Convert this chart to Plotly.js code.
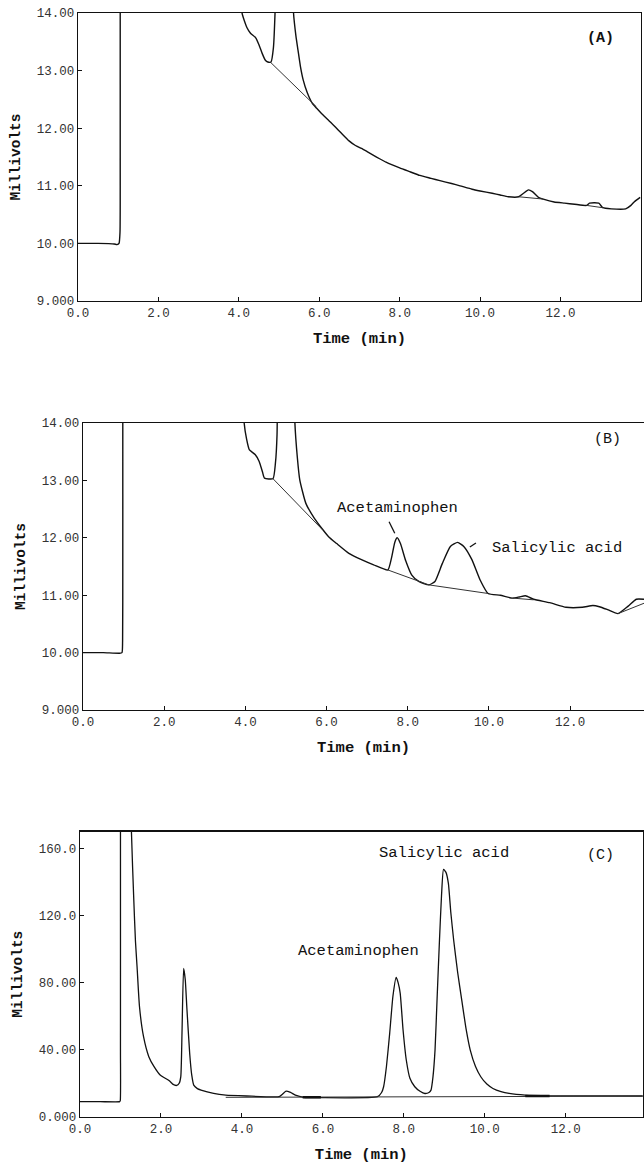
<!DOCTYPE html>
<html>
<head>
<meta charset="utf-8">
<script src="https://cdn.plot.ly/plotly-3.0.1.min.js"></script>
<style>html,body{margin:0;padding:0;background:#fff;}#chart{width:644px;height:1164px;}</style>
</head>
<body>
<div id="chart"></div>
<script>
// ---------- Panel A (blank / baseline run) ----------  (values above 14 mV are off-scale)
const aTime = [0, 0.5, 0.9, 0.97, 1.02, 1.045, 1.05, 1.05, 1.05, 4.04, 4.06, 4.08, 4.2, 4.29, 4.42, 4.5, 4.58, 4.66, 4.72, 4.8, 4.86, 4.9, 4.92, 4.93, 5.34, 5.35, 5.36, 5.42, 5.47, 5.53, 5.6, 5.7, 5.82, 5.93, 6.05, 6.23, 6.4, 6.54, 6.74, 6.9, 7.05, 7.2, 7.35, 7.5, 7.66, 8.0, 8.27, 8.5, 8.78, 9.0, 9.29, 9.5, 9.8, 10.0, 10.3, 10.5, 10.7, 10.96, 11.08, 11.2, 11.3, 11.45, 11.57, 11.84, 12.1, 12.35, 12.65, 12.72, 12.95, 13.05, 13.26, 13.62, 13.75, 13.83, 13.98];
const aMv   = [10.0, 10.0, 9.99, 9.98, 10.0, 10.2, 11.5, 14.0, 16.0, 16.0, 14.6, 14.0, 13.75, 13.65, 13.57, 13.45, 13.3, 13.18, 13.15, 13.15, 13.4, 14.0, 14.6, 16.0, 16.0, 14.6, 14.0, 13.6, 13.36, 13.08, 12.84, 12.62, 12.44, 12.35, 12.26, 12.14, 12.02, 11.92, 11.78, 11.7, 11.65, 11.59, 11.53, 11.47, 11.41, 11.31, 11.24, 11.18, 11.13, 11.09, 11.04, 11.0, 10.94, 10.91, 10.87, 10.84, 10.81, 10.81, 10.87, 10.93, 10.9, 10.8, 10.77, 10.72, 10.7, 10.68, 10.66, 10.7, 10.7, 10.62, 10.6, 10.6, 10.66, 10.72, 10.8];
const aBaseTime = [4.78, 5.93, null, 10.96, 11.57, null, 12.65, 13.05];
const aBaseMv   = [13.15, 12.37, null, 10.81, 10.77, null, 10.66, 10.62];

// ---------- Panel B (spiked serum) ----------
const bTime = [0, 0.5, 0.9, 0.96, 0.975, 0.98, 0.98, 0.98, 3.93, 3.95, 3.97, 4.03, 4.1, 4.24, 4.34, 4.42, 4.47, 4.68, 4.74, 4.78, 4.79, 4.8, 5.2, 5.21, 5.22, 5.28, 5.34, 5.49, 5.7, 5.9, 6.05, 6.25, 6.55, 6.86, 7.16, 7.51, 7.6, 7.68, 7.74, 7.82, 7.95, 8.1, 8.27, 8.52, 8.67, 8.85, 9.05, 9.23, 9.38, 9.58, 9.78, 9.98, 10.28, 10.58, 10.75, 10.9, 11.1, 11.5, 11.9, 12.3, 12.56, 12.72, 12.92, 13.18, 13.43, 13.63, 13.82];
const bMv   = [10.0, 10.0, 9.99, 10.0, 10.2, 11.5, 14.0, 16.0, 16.0, 14.6, 14.0, 13.72, 13.53, 13.45, 13.33, 13.15, 13.04, 13.03, 13.3, 13.8, 14.6, 16.0, 16.0, 14.6, 14.0, 13.4, 13.01, 12.6, 12.34, 12.15, 12.02, 11.9, 11.73, 11.62, 11.53, 11.44, 11.65, 11.92, 12.0, 11.9, 11.6, 11.35, 11.24, 11.18, 11.24, 11.55, 11.85, 11.92, 11.85, 11.62, 11.27, 11.03, 11.0, 10.95, 10.97, 10.99, 10.93, 10.87, 10.79, 10.79, 10.82, 10.8, 10.75, 10.68, 10.81, 10.93, 10.93];
const bBaseTime = [4.68, 5.9, null, 7.51, 8.52, 9.98, null, 10.58, 11.1, null, 13.18, 13.82];
const bBaseMv   = [13.03, 12.14, null, 11.44, 11.18, 11.03, null, 10.95, 10.92, null, 10.68, 10.86];

// ---------- Panel C (standards) ----------
const cTime = [0, 0.5, 0.98, 0.995, 1.0, 1.0, 1.0, 1.26, 1.265, 1.27, 1.33, 1.37, 1.41, 1.47, 1.57, 1.70, 1.83, 1.98, 2.18, 2.25, 2.29, 2.39, 2.45, 2.49, 2.52, 2.56, 2.6, 2.64, 2.71, 2.76, 2.81, 2.9, 2.99, 3.3, 3.6, 4.11, 4.92, 5.0, 5.09, 5.2, 5.32, 5.53, 5.93, 7.35, 7.45, 7.5, 7.57, 7.65, 7.73, 7.81, 7.86, 7.91, 7.98, 8.06, 8.15, 8.27, 8.4, 8.52, 8.62, 8.67, 8.72, 8.77, 8.82, 8.88, 8.93, 8.98, 9.04, 9.1, 9.16, 9.23, 9.33, 9.43, 9.54, 9.64, 9.77, 9.9, 10.05, 10.2, 10.4, 10.6, 11.0, 11.6, 13.95];
const cMv   = [9.0, 9.0, 9.0, 9.6, 40, 171, 230, 230, 200, 171, 129, 105, 89.6, 65.7, 47.8, 35.9, 29.9, 24.9, 21.9, 20.5, 19.5, 18.7, 20, 24, 50, 88.6, 82, 65, 37.8, 25, 18.9, 16.8, 15.9, 13.9, 12.9, 12.4, 12.0, 13.5, 15.3, 14.5, 12.9, 11.6, 11.4, 12.0, 14.5, 17.9, 30, 49.8, 72, 83.3, 80, 73.7, 52, 33.9, 23, 17.9, 15.2, 13.9, 14.5, 15.9, 24, 39.8, 70, 105.6, 132, 147.8, 146, 139.4, 122, 105.6, 86, 69.7, 52, 39.8, 30, 23.9, 19.5, 16.9, 15, 13.9, 12.9, 12.5, 12.4];
const cBaseTime = [3.6, 13.93];
const cBaseMv   = [11.6, 12.3];
const cMarkTime = [5.5, 5.95, null, 11.0, 11.6];
const cMarkMv   = [11.6, 11.6, null, 12.4, 12.4];

// ---------- Tick labels ----------
const timeTicks = [0, 2, 4, 6, 8, 10, 12];
const timeLabels = ["0.0", "2.0", "4.0", "6.0", "8.0", "10.0", "12.0"];
const mvTicksAB = [9, 10, 11, 12, 13, 14];
const mvLabelsAB = ["9.000", "10.00", "11.00", "12.00", "13.00", "14.00"];
const mvTicksC = [0, 40, 80, 120, 160];
const mvLabelsC = ["0.000", "40.00", "80.00", "120.0", "160.0"];

const MONO = "Liberation Mono, DejaVu Sans Mono, monospace";
const ink = "#111";

function line(x, y, xa, ya, w, c, smooth) {
  const ln = {color: c || ink, width: w};
  if (smooth) { ln.shape = "spline"; ln.smoothing = 0.5; }
  return {x: x, y: y, xaxis: xa, yaxis: ya, type: "scatter", mode: "lines",
          line: ln, hoverinfo: "skip", connectgaps: false};
}

const data = [
  line(aTime, aMv, "x", "y", 1.4, ink, true),
  line(aBaseTime, aBaseMv, "x", "y", 1.0, "#333"),
  line(bTime, bMv, "x2", "y2", 1.4, ink, true),
  line(bBaseTime, bBaseMv, "x2", "y2", 1.0, "#333"),
  line(cTime, cMv, "x3", "y3", 1.3, ink, true),
  line(cBaseTime, cBaseMv, "x3", "y3", 1.0, "#333"),
  line(cMarkTime, cMarkMv, "x3", "y3", 2.5)
];

function xAx(domain, range, anchor) {
  return {domain: domain, range: range, anchor: anchor, showline: true, mirror: true,
    linecolor: ink, linewidth: 1.2, ticks: "inside", ticklen: 4, tickcolor: ink,
    tickvals: timeTicks, ticktext: timeLabels, showgrid: false, zeroline: false,
    tickfont: {family: MONO, size: 12.5, color: "#333"},
    title: {text: "Time (min)", font: {family: MONO, size: 15.5, color: ink, weight: "bold"}, standoff: 12}};
}
function yAx(domain, range, anchor, tv, tt, mirror) {
  return {domain: domain, range: range, anchor: anchor, showline: true, mirror: mirror,
    linecolor: ink, linewidth: 1.2, ticks: "inside", ticklen: 4, tickcolor: ink,
    tickvals: tv, ticktext: tt, showgrid: false, zeroline: false,
    tickfont: {family: MONO, size: 12.5, color: "#333"},
    title: {text: "Millivolts", font: {family: MONO, size: 14.5, color: ink, weight: "bold"}, standoff: 12}};
}

const layout = {
  width: 644, height: 1164,
  margin: {l: 0, r: 0, t: 0, b: 0},
  paper_bgcolor: "#fff", plot_bgcolor: "#fff",
  showlegend: false,
  xaxis:  xAx([0.1211, 0.9953], [0, 14], "y"),
  yaxis:  yAx([0.7414, 0.9888], [9, 14], "x", mvTicksAB, mvLabelsAB, true),
  xaxis2: xAx([0.1289, 1.0], [0, 13.82], "y2"),
  yaxis2: yAx([0.3900, 0.6366], [9, 14], "x2", mvTicksAB, mvLabelsAB, false),
  xaxis3: xAx([0.1242, 0.998], [0, 13.9], "y3"),
  yaxis3: yAx([0.0406, 0.2855], [0, 170.3], "x3", mvTicksC, mvLabelsC, true),
  annotations: [
    {xref: "x", yref: "y", x: 13.0, y: 13.55, text: "(A)", showarrow: false,
     font: {family: MONO, size: 15, color: ink, weight: "bold"}},
    {xref: "x2", yref: "y2", x: 12.93, y: 13.72, text: "(B)", showarrow: false,
     font: {family: MONO, size: 15, color: ink}},
    {xref: "x2", yref: "y2", x: 7.75, y: 12.52, text: "Acetaminophen", showarrow: false,
     font: {family: MONO, size: 15.5, color: ink}},
    {xref: "x2", yref: "y2", x: 11.67, y: 11.82, text: "Salicylic acid", showarrow: false,
     font: {family: MONO, size: 15.5, color: ink}},
    {xref: "x3", yref: "y3", x: 12.86, y: 156.2, text: "(C)", showarrow: false,
     font: {family: MONO, size: 15, color: ink}},
    {xref: "x3", yref: "y3", x: 8.98, y: 157.4, text: "Salicylic acid", showarrow: false,
     font: {family: MONO, size: 15.5, color: ink}},
    {xref: "x3", yref: "y3", x: 6.89, y: 98.9, text: "Acetaminophen", showarrow: false,
     font: {family: MONO, size: 15.5, color: ink}}
  ],
  shapes: [
    {type: "line", xref: "x2", yref: "y2", x0: 7.54, y0: 12.28, x1: 7.68, y1: 12.08, line: {color: ink, width: 1.3}},
    {type: "line", xref: "x2", yref: "y2", x0: 9.53, y0: 11.84, x1: 9.68, y1: 11.91, line: {color: ink, width: 1.3}}
  ]
};

Plotly.newPlot("chart", data, layout, {displayModeBar: false, staticPlot: true});
</script>
</body>
</html>
